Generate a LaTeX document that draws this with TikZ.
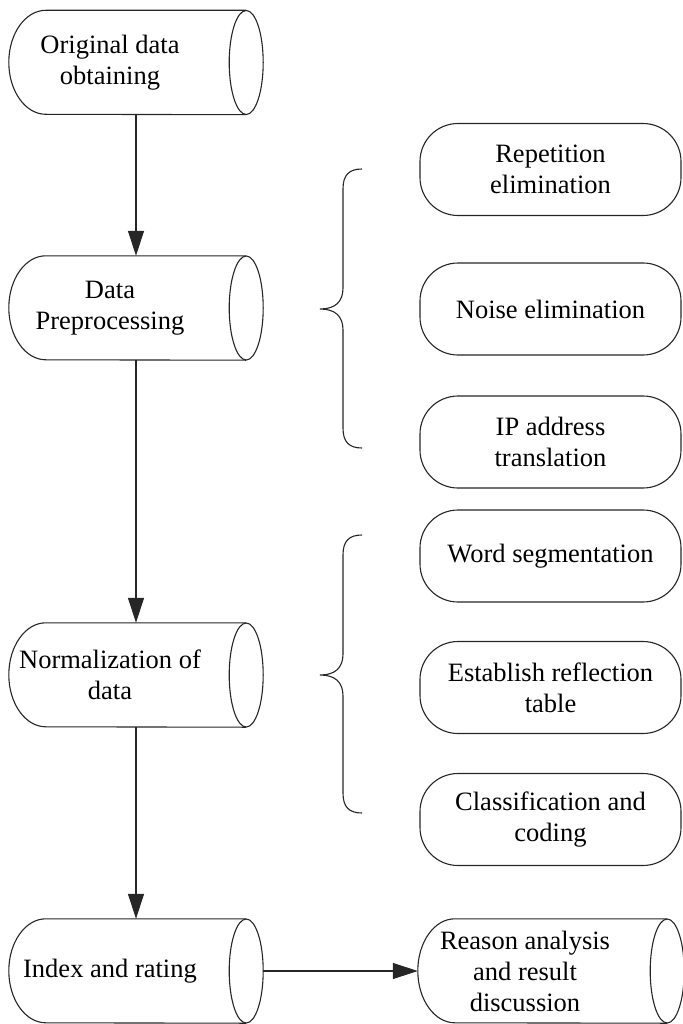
\documentclass[tikz,border=0pt]{standalone}
\usepackage{fontspec}
\setmainfont{Liberation Serif}
\usetikzlibrary{arrows.meta}

\begin{document}
\begin{tikzpicture}[x=1pt,y=1pt,
line/.style={line width=1.1pt, draw=black!85},
drum/.style={minimum width=254pt, minimum height=104pt, inner sep=0pt},
drumtext/.style={align=center, font=\fontsize{26.5}{31}\selectfont},
pill/.style={line, rounded corners=38pt, minimum width=261pt, minimum height=92pt, align=center, font=\fontsize{26.5}{31}\selectfont},
flow/.style={line, -{Triangle[length=25pt,width=16pt]}}]
    \useasboundingbox (0,0) rectangle (682,-1024);

    % main chain
    \node[drum] (orig) at (136,-62.5) {};
    \node[drum] (prep) at (136,-308) {};
    \node[drum] (norm) at (136,-675) {};
    \node[drum] (index) at (136,-971) {};
    \node[drum, minimum width=266pt] (reason) at (551,-971) {};

    \node[drumtext] (origtxt) at ([xshift=-26pt]orig.center) {Original data\\obtaining};
    \node[drumtext] (preptxt) at ([xshift=-26pt]prep.center) {Data\\Preprocessing};
    \node[drumtext] (normtxt) at ([xshift=-26pt]norm.center) {Normalization of\\data};
    \node[drumtext] (indextxt) at ([xshift=-26pt]index.center) {Index and rating};
    \node[drumtext] (reasontxt) at ([xshift=-26pt]reason.center) {Reason analysis\\and result\\discussion};

    \foreach \d in {orig,prep,norm,index,reason} {
        \draw[line] ([xshift=-17pt]\d.north east) -- ([xshift=37pt]\d.north west)
            arc[start angle=90, end angle=270, x radius=37pt, y radius=52pt]
            -- ([xshift=-17pt]\d.south east);
        \draw[line] ([xshift=-17pt]\d.east) ellipse[x radius=17pt, y radius=52pt];
    }

    % sub steps
    \node[pill] (rep) at (550.5,-169.5) {Repetition\\elimination};
    \node[pill] (noise) at (550.5,-309) {Noise elimination};
    \node[pill] (ipaddr) at (550.5,-442) {IP address\\translation};
    \node[pill] (wordseg) at (550.5,-556) {Word segmentation};
    \node[pill] (reflect) at (550.5,-687.5) {Establish reflection\\table};
    \node[pill] (classif) at (550.5,-819.5) {Classification and\\coding};

    % braces
    \foreach \t/\m/\b in {169/309/448, 535/675/813} {
        \draw[line] (362,-\t) .. controls (349,-\t) and (343,-\t-6) .. (343,-\t-20)
            -- (343,-\m+21) .. controls (343,-\m+7) and (335,-\m) .. (320,-\m)
            .. controls (335,-\m) and (343,-\m-7) .. (343,-\m-21)
            -- (343,-\b+20) .. controls (343,-\b+6) and (349,-\b) .. (362,-\b);
    }

    \draw[flow] (orig) -- (prep);
    \draw[flow] (prep) -- (norm);
    \draw[flow] (norm) -- (index);
    \draw[flow] (index) -- (reason);
\end{tikzpicture}
\end{document}
